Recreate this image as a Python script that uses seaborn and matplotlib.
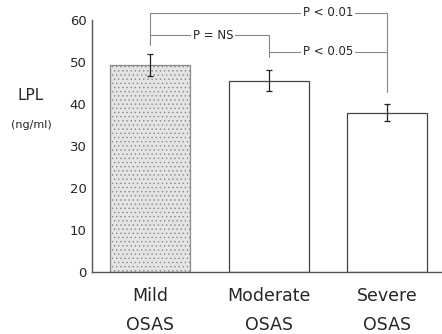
import matplotlib
matplotlib.use("Agg")
import matplotlib.pyplot as plt
import seaborn as sns
import pandas as pd

categories = ["Mild\nOSAS", "Moderate\nOSAS", "Severe\nOSAS"]
values = [49.2, 45.5, 37.9]
errors = [2.6, 2.5, 2.0]
yticks = [0, 10, 20, 30, 40, 50, 60]

sns.set_style("white")
plt.rcParams['font.family'] = ['DejaVu Sans']
plt.rcParams['hatch.linewidth'] = 0.5

fig = plt.figure(figsize=(4.42, 3.34), dpi=100)
ax = fig.add_axes([0.208, 0.186, 0.792, 0.754])

df = pd.DataFrame({"cat": categories, "val": values})
sns.barplot(data=df, x="cat", y="val", ax=ax, width=0.675, errorbar=None,
            color="white", edgecolor="#444444", linewidth=0.9)
for i, p in enumerate(ax.patches):
    if i == 0:
        p.set_facecolor("#e4e4e4")
        p.set_hatch("....")
        p.set_edgecolor("#8a8a8a")
ax.errorbar(range(len(values)), values, yerr=errors, fmt="none",
            ecolor="#222222", elinewidth=0.9, capsize=2.5, capthick=0.9)

ax.set_ylim(0, 60)
ax.set_xlim(-0.49, 2.46)
ax.set_yticks(yticks)
ax.set_yticklabels([str(t) for t in yticks], fontsize=9.5)
ax.set_xlabel("")
ax.set_ylabel("")
ax.tick_params(axis="x", labelsize=12.5, length=2, pad=9, color="#555555")
ax.tick_params(axis="y", length=3, color="#555555", pad=1)
for lab in ax.get_xticklabels():
    lab.set_linespacing(1.75)
sns.despine(ax=ax)
for s in ["left", "bottom"]:
    ax.spines[s].set_color("#555555")
    ax.spines[s].set_linewidth(1.0)

fig.text(0.07, 0.715, "LPL", fontsize=11, ha="center", va="center")
fig.text(0.072, 0.625, "(ng/ml)", fontsize=8, ha="center", va="center")

lk = dict(color="#888888", lw=0.8, clip_on=False)
# P < 0.01 bracket
ax.plot([0, 0, 2, 2], [54.0, 61.7, 61.7, 42.9], **lk)
# P = NS bracket
ax.plot([0, 1, 1], [56.4, 56.4, 51.2], **lk)
# P < 0.05 bracket
ax.plot([1, 2], [52.4, 52.4], **lk)

bb = dict(facecolor="white", edgecolor="none", pad=1.5)
ax.text(1.5, 61.7, "P < 0.01", fontsize=8.5, ha="center", va="center", bbox=bb, clip_on=False)
ax.text(0.53, 56.4, "P = NS", fontsize=8.5, ha="center", va="center", bbox=bb, clip_on=False)
ax.text(1.5, 52.4, "P < 0.05", fontsize=8.5, ha="center", va="center", bbox=bb, clip_on=False)

fig.savefig("out.png", dpi=100)
